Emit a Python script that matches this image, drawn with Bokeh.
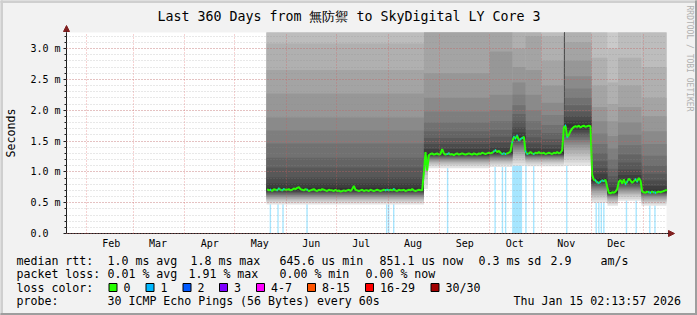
import math
import pandas as pd
from bokeh.plotting import figure
from bokeh.models import (Range1d, FixedTicker, CustomJSTickFormatter, Label,
                          BoxAnnotation, Arrow, NormalHead, ColumnDataSource)
from bokeh.embed import file_html
from bokeh.resources import INLINE

# ------------------------------------------------------------------ data
graph_end = "2026-01-15 02:13:57"
span_days = 360
y_max_ms = 3.26

title_text = "Last 360 Days from 無防禦 to SkyDigital LY Core 3"

# daily median rtt (ms), first day 2025-05-20
median_first_day = "2025-05-20"
median_may = [0.72, 0.70, 0.71, 0.69, 0.72, 0.71, 0.70, 0.73, 0.71, 0.70, 0.72, 0.71]
median_jun = [0.71, 0.72, 0.70, 0.71, 0.73, 0.72, 0.74, 0.75, 0.72, 0.71,
              0.70, 0.72, 0.71, 0.69, 0.70, 0.71, 0.72, 0.70, 0.69, 0.71,
              0.70, 0.72, 0.71, 0.70, 0.69, 0.71, 0.70, 0.70, 0.69, 0.71]
median_jul = [0.69, 0.70, 0.68, 0.69, 0.70, 0.69, 0.70, 0.71, 0.69, 0.72,
              0.77, 0.71, 0.70, 0.69, 0.70, 0.71, 0.69, 0.70, 0.70, 0.69,
              0.71, 0.70, 0.69, 0.70, 0.71, 0.70, 0.69, 0.70, 0.71, 0.70, 0.71]
median_aug = [0.70, 0.71, 0.70, 0.72, 0.70, 0.69, 0.71, 0.70, 0.70, 0.71,
              0.69, 0.70, 0.71, 0.70, 0.72, 0.70, 0.69, 0.70, 0.71, 0.70, 0.70,
              0.98, 1.32, 1.02, 1.27, 1.29, 1.30, 1.28, 1.29, 1.30, 1.28]
median_sep = [1.29, 1.37, 1.30, 1.28, 1.29, 1.30, 1.28, 1.29, 1.27, 1.29,
              1.30, 1.28, 1.29, 1.30, 1.29, 1.28, 1.29, 1.30, 1.29, 1.28,
              1.30, 1.29, 1.28, 1.30, 1.29, 1.31, 1.30, 1.29, 1.30, 1.31]
median_oct = [1.30, 1.31, 1.33, 1.35, 1.32, 1.34, 1.31, 1.29, 1.30, 1.29, 1.30, 1.31, 1.33,
              1.48, 1.57, 1.54, 1.59, 1.51, 1.53, 1.55, 1.57,
              1.33, 1.29, 1.30, 1.32, 1.30, 1.29, 1.31, 1.30, 1.32, 1.30]
median_nov = [1.30, 1.31, 1.29, 1.30, 1.31, 1.30, 1.29, 1.31, 1.30, 1.32, 1.30, 1.31, 1.35,
              1.72, 1.75, 1.56, 1.60, 1.66, 1.70,
              1.73, 1.74, 1.73, 1.75, 1.72, 1.74, 1.75, 1.73, 1.74, 1.75, 1.74]
median_dec = [0.95, 0.87, 0.86, 0.83, 0.82, 0.84, 0.86, 0.85, 0.87, 0.76,
              0.66, 0.65, 0.67, 0.66, 0.68, 0.72,
              0.84, 0.87, 0.81, 0.88, 0.80, 0.84, 0.89, 0.86, 0.82, 0.85, 0.88, 0.84, 0.90, 0.86,
              0.68]
median_jan = [0.67, 0.66, 0.68, 0.67, 0.66, 0.68, 0.67, 0.66, 0.67, 0.68, 0.67, 0.68, 0.69, 0.70, 0.70]

# smoke: 30 sorted ping rtts (ms) per period
smoke_start = ["2025-05-20 02:00", "2025-08-22 14:00", "2025-08-25 00:00", "2025-10-01 00:00",
               "2025-10-14 16:00", "2025-10-22 12:00", "2025-11-01 00:00", "2025-11-14 14:00",
               "2025-11-15 00:00", "2025-12-01 02:00", "2025-12-10 16:00", "2025-12-17 00:00",
               "2025-12-31 02:00"]
smoke_end = smoke_start[1:] + [graph_end]
pings_may_aug = [0.47, 0.50, 0.52, 0.54, 0.56, 0.57, 0.59, 0.60, 0.62, 0.63, 0.645, 0.66, 0.67, 0.685, 0.70,
                 0.74, 0.81, 0.91, 1.07, 1.23, 1.46, 1.67, 1.88, 2.27, 2.65, 3.08, 3.45, 3.90, 4.50, 5.50]
pings_aug_jump = [0.72, 0.80, 0.88, 0.95, 1.00, 1.05, 1.09, 1.12, 1.15, 1.18, 1.20, 1.22, 1.24, 1.26, 1.28,
                  1.31, 1.37, 1.45, 1.55, 1.66, 1.80, 1.98, 2.20, 2.60, 3.35, 3.90, 4.40, 5.00, 5.60, 6.50]
pings_aug_sep = [1.06, 1.09, 1.11, 1.13, 1.15, 1.165, 1.18, 1.195, 1.21, 1.22, 1.235, 1.25, 1.26, 1.27, 1.285,
                 1.31, 1.37, 1.45, 1.55, 1.66, 1.80, 1.98, 2.20, 2.60, 3.35, 3.90, 4.40, 5.00, 5.60, 6.50]
pings_oct_a = [1.08, 1.11, 1.13, 1.15, 1.17, 1.185, 1.20, 1.215, 1.23, 1.24, 1.255, 1.27, 1.28, 1.29, 1.30,
               1.33, 1.39, 1.47, 1.57, 1.68, 1.82, 2.00, 2.25, 2.95, 3.60, 4.10, 4.60, 5.20, 5.80, 6.50]
pings_oct_b = [1.10, 1.14, 1.18, 1.22, 1.26, 1.29, 1.32, 1.35, 1.38, 1.41, 1.44, 1.47, 1.50, 1.52, 1.545,
               1.58, 1.64, 1.72, 1.82, 1.94, 2.08, 2.25, 2.45, 2.70, 3.00, 3.40, 3.90, 4.40, 5.00, 6.00]
pings_oct_c = [1.09, 1.12, 1.14, 1.16, 1.18, 1.195, 1.21, 1.22, 1.235, 1.245, 1.255, 1.265, 1.275, 1.285, 1.295,
               1.32, 1.38, 1.46, 1.56, 1.68, 1.82, 2.00, 2.25, 2.65, 3.20, 3.70, 4.20, 4.80, 5.50, 6.50]
pings_nov_a = [1.09, 1.12, 1.14, 1.16, 1.18, 1.195, 1.21, 1.22, 1.235, 1.245, 1.255, 1.265, 1.275, 1.285, 1.295,
               1.32, 1.37, 1.44, 1.53, 1.63, 1.76, 1.92, 2.12, 2.40, 2.80, 3.20, 3.70, 4.20, 4.80, 5.80]
pings_nov_spike = [1.10, 1.15, 1.20, 1.25, 1.30, 1.35, 1.40, 1.44, 1.48, 1.52, 1.56, 1.60, 1.64, 1.68, 1.72,
                   1.78, 1.90, 3.40, 3.60, 3.80, 4.00, 4.20, 4.40, 4.60, 4.80, 5.00, 5.20, 5.40, 5.60, 6.00]
pings_nov_b = [1.10, 1.15, 1.20, 1.25, 1.30, 1.35, 1.40, 1.44, 1.48, 1.52, 1.56, 1.60, 1.64, 1.68, 1.72,
               1.77, 1.83, 1.90, 1.98, 2.08, 2.20, 2.35, 2.55, 2.80, 3.10, 3.50, 4.00, 4.60, 5.20, 6.00]
pings_dec_a = [0.50, 0.54, 0.57, 0.60, 0.63, 0.66, 0.69, 0.71, 0.73, 0.75, 0.77, 0.79, 0.81, 0.83, 0.85,
               0.90, 0.97, 1.06, 1.17, 1.30, 1.45, 1.62, 1.82, 2.05, 2.40, 2.85, 3.35, 3.90, 4.50, 5.50]
pings_dec_b = [0.45, 0.48, 0.50, 0.52, 0.54, 0.56, 0.575, 0.59, 0.60, 0.61, 0.62, 0.63, 0.64, 0.65, 0.66,
               0.69, 0.75, 0.83, 0.93, 1.05, 1.20, 1.38, 1.58, 1.82, 2.10, 2.45, 3.00, 3.50, 4.00, 5.00]
pings_dec_c = [0.53, 0.56, 0.59, 0.62, 0.64, 0.66, 0.68, 0.70, 0.72, 0.74, 0.76, 0.78, 0.80, 0.82, 0.84,
               0.88, 0.95, 1.04, 1.15, 1.28, 1.43, 1.60, 1.80, 2.05, 2.40, 2.85, 3.35, 3.90, 4.50, 5.50]
pings_jan = [0.45, 0.48, 0.50, 0.52, 0.54, 0.56, 0.58, 0.595, 0.61, 0.62, 0.635, 0.645, 0.655, 0.665, 0.675,
             0.71, 0.77, 0.86, 0.97, 1.10, 1.26, 1.45, 1.66, 1.90, 2.20, 2.70, 3.30, 3.80, 4.40, 5.20]
smoke_pings = [pings_may_aug, pings_aug_jump, pings_aug_sep, pings_oct_a, pings_oct_b, pings_oct_c,
               pings_nov_a, pings_nov_spike, pings_nov_b, pings_dec_a, pings_dec_b, pings_dec_c, pings_jan]

# packet loss events (1 of 30 lost)
loss_start = ["2025-05-22 00:00", "2025-05-26 14:00", "2025-05-29 14:00", "2025-06-13 00:00",
              "2025-07-30 20:00", "2025-08-01 00:00", "2025-08-04 00:00", "2025-09-05 08:00",
              "2025-10-03 20:00", "2025-10-08 06:00", "2025-10-10 04:00", "2025-10-14 11:00",
              "2025-10-22 08:00", "2025-10-27 00:00", "2025-11-15 20:00", "2025-12-03 12:00",
              "2025-12-05 02:00", "2025-12-06 14:00", "2025-12-08 02:00", "2025-12-21 16:00",
              "2025-12-27 12:00", "2026-01-04 16:00", "2026-01-07 18:00"]
loss_end = ["2025-05-22 20:00", "2025-05-27 10:00", "2025-05-30 10:00", "2025-06-13 20:00",
            "2025-07-31 16:00", "2025-08-01 20:00", "2025-08-04 20:00", "2025-09-06 04:00",
            "2025-10-04 16:00", "2025-10-09 02:00", "2025-10-11 00:00", "2025-10-20 11:00",
            "2025-10-23 04:00", "2025-10-27 20:00", "2025-11-16 16:00", "2025-12-04 08:00",
            "2025-12-05 22:00", "2025-12-07 10:00", "2025-12-08 22:00", "2025-12-22 12:00",
            "2025-12-28 08:00", "2026-01-05 12:00", "2026-01-08 14:00"]

month_starts = ["2025-02-01", "2025-03-01", "2025-04-01", "2025-05-01", "2025-06-01", "2025-07-01",
                "2025-08-01", "2025-09-01", "2025-10-01", "2025-11-01", "2025-12-01", "2026-01-01"]
month_label_days = ["2025-02-16", "2025-03-16", "2025-04-16", "2025-05-16", "2025-06-16", "2025-07-16",
                    "2025-08-16", "2025-09-16", "2025-10-16", "2025-11-16", "2025-12-16"]
y_major = [0.0, 0.5, 1.0, 1.5, 2.0, 2.5, 3.0]

loss_legend = ["0", "1", "2", "3", "4-7", "8-15", "16-29", "30/30"]
loss_colors = ["#26ff00", "#00b8ff", "#0059ff", "#7e00ff", "#ff00ff", "#ff5500", "#ff0000", "#a10000"]
smoke_gray = ["#e3e3e3", "#d6d6d6", "#cacaca", "#bdbdbd", "#b0b0b0", "#a4a4a4", "#979797", "#8a8a8a",
              "#7e7e7e", "#717171", "#646464", "#585858", "#4b4b4b", "#3e3e3e", "#323232"]

legend_row1 = [("median rtt:", 16), ("1.0 ms avg", 107), ("1.8 ms max", 190), ("645.6 us min", 279),
               ("851.1 us now", 379), ("0.3 ms sd", 478), ("2.9", 550), ("am/s", 600)]
legend_row2 = [("packet loss:", 16), ("0.01 % avg", 107), ("1.91 % max", 188), ("0.00 % min", 279),
               ("0.00 % now", 365)]
legend_row4 = [("probe:", 16), ("30 ICMP Echo Pings (56 Bytes) every 60s", 107),
               ("Thu Jan 15 02:13:57 2026", 513)]

# ------------------------------------------------------------------ layout constants
W, H = 697, 315
FL, FT, FB, FR = 66, 32, 233, 666      # plot area edges in canvas px
MONO = "DejaVu Sans Mono"

def ms(s):
    return pd.Timestamp(s).value / 1e6

DAY = 86400000.0
t_end = ms(graph_end)
t_start = t_end - span_days * DAY
kx = (t_end - t_start) / (FR - FL)       # ms of time per pixel
ky = y_max_ms / (FB - FT)                # rtt-ms per pixel

median_vals = (median_may + median_jun + median_jul + median_aug + median_sep +
               median_oct + median_nov + median_dec + median_jan)
day0 = ms(median_first_day)
median_day = [day0 + i * DAY for i in range(len(median_vals))]
median_x = [d + DAY / 2 for d in median_day]
ls_ms = [ms(s) for s in loss_start]
le_ms = [ms(s) for s in loss_end]

# the frame covers the whole canvas; axes are pinned inside it
p = figure(width=W, height=H, x_axis_type="datetime",
           x_range=Range1d(t_start - FL * kx, t_start + (W - FL) * kx),
           y_range=Range1d(-(H - FB) * ky, y_max_ms + FT * ky),
           output_backend="svg", toolbar_location=None,
           min_border=0, min_border_left=0, min_border_right=0, min_border_top=0, min_border_bottom=0,
           background_fill_color="#f2f2f2", border_fill_color="#f2f2f2")
p.outline_line_color = None

# white canvas of the graph
p.add_layout(BoxAnnotation(left=t_start, right=t_end, bottom=0, top=y_max_ms,
                           fill_color="white", fill_alpha=1, line_color=None, level="underlay"))

# loss background bars
p.quad(left=ls_ms, right=le_ms, bottom=0, top=y_max_ms, fill_color=loss_colors[1], fill_alpha=0.35,
       line_color=None)

# smoke
rows = dict(left=[], right=[], bottom=[], top=[], color=[])
for b in range(15):
    for s, e, pings in zip(smoke_start, smoke_end, smoke_pings):
        rows["left"].append(ms(s))
        rows["right"].append(ms(e))
        rows["bottom"].append(min(pings[b], y_max_ms))
        rows["top"].append(min(pings[29 - b], y_max_ms))
        rows["color"].append(smoke_gray[b])
p.quad(source=ColumnDataSource(rows), left="left", right="right", bottom="bottom", top="top",
       fill_color="color", line_color=None)

# median line coloured by loss
p.line(median_x, median_vals, line_color=loss_colors[0], line_width=2)
bx0, bx1, by = [], [], []
for d, v in zip(median_day, median_vals):
    if any(s < d + DAY and e > d for s, e in zip(ls_ms, le_ms)):
        bx0.append(d + DAY * 0.2)
        bx1.append(d + DAY * 0.8)
        by.append(v)
p.segment(x0=bx0, y0=by, x1=bx1, y1=by, line_color=loss_colors[1], line_width=2)

# axes pinned at the graph origin
p.xaxis.fixed_location = 0
p.xaxis.bounds = (t_start, t_end)
p.yaxis.fixed_location = t_start
p.yaxis.bounds = (0, y_max_ms)
p.xaxis.ticker = FixedTicker(ticks=[ms(d) for d in month_label_days])
p.xaxis.formatter = CustomJSTickFormatter(code="""
const m=['Jan','Feb','Mar','Apr','May','Jun','Jul','Aug','Sep','Oct','Nov','Dec'];
return m[new Date(tick).getUTCMonth()];""")
p.yaxis.ticker = FixedTicker(ticks=y_major, minor_ticks=[i / 10 for i in range(0, 33)])
p.yaxis.formatter = CustomJSTickFormatter(
    code="return tick == 0 ? '0.0\\u00a0\\u00a0' : tick.toFixed(1) + ' m';")
for ax in (p.xaxis[0], p.yaxis[0]):
    ax.axis_line_color = "#1f1f1f"
    ax.major_label_text_font = MONO
    ax.major_label_text_font_size = "10px"
    ax.major_label_text_color = "black"
    ax.major_tick_in = 0
    ax.minor_tick_in = 0
    ax.major_tick_line_color = "#1f1f1f"
    ax.minor_tick_line_color = "#1f1f1f"
p.xaxis.major_tick_out = 0
p.xaxis.minor_tick_out = 0
p.xaxis.major_label_standoff = 4
p.yaxis.major_tick_out = 3
p.yaxis.minor_tick_out = 2
p.yaxis.major_label_standoff = 3

p.xgrid.ticker = FixedTicker(ticks=[ms(d) for d in month_starts])
p.xgrid.bounds = (t_start, t_end)
p.xgrid.cross_bounds = (0, y_max_ms)
p.ygrid.bounds = (0, y_max_ms)
p.ygrid.cross_bounds = (t_start, t_end)
p.xgrid.grid_line_color = "#de4f4f"
p.xgrid.grid_line_alpha = 0.5
p.xgrid.grid_line_dash = "1 2"
p.ygrid.grid_line_color = "#de4f4f"
p.ygrid.grid_line_alpha = 0.5
p.ygrid.grid_line_dash = "1 2"
p.ygrid.minor_grid_line_color = "#8f8f8f"
p.ygrid.minor_grid_line_alpha = 0.4
p.ygrid.minor_grid_line_dash = "1 2"
p.xgrid.level = "guide"
p.ygrid.level = "guide"

# arrows at the axis ends
head = dict(size=6, fill_color="#801f1f", line_color="#801f1f")
p.add_layout(Arrow(end=NormalHead(**head), x_start=t_end, y_start=0, x_end=t_end + 8 * kx, y_end=0,
                   line_color="#1f1f1f", line_width=1))
p.add_layout(Arrow(end=NormalHead(**head), x_start=t_start, y_start=y_max_ms, x_end=t_start,
                   y_end=y_max_ms + 7 * ky, line_color="#1f1f1f", line_width=1))

# ------------------------------------------------------------------ texts
def text(t, x, y, size="11.6px", align="left", angle=0.0, color="black", font=MONO):
    p.add_layout(Label(x=x, y=H - y, x_units="screen", y_units="screen", text=t,
                       text_font=font, text_font_size=size, text_color=color,
                       text_align=align, text_baseline="middle", angle=angle))

def box(x0, x1, y0, y1, color, line=None):
    p.add_layout(BoxAnnotation(left=x0, right=x1, top=H - y0, bottom=H - y1,
                               left_units="screen", right_units="screen",
                               top_units="screen", bottom_units="screen",
                               fill_color=color, fill_alpha=1.0,
                               line_color=line if line else color, line_alpha=1.0, line_width=1))

text(title_text, W / 2, 15.5, size="13.3px", align="center")
text("Seconds", 10.5, (FT + FB) / 2, align="center", angle=math.pi / 2)
text("RRDTOOL / TOBI OETIKER", 689, 5, size="8px", angle=-math.pi / 2, color="#b0b0b0")
for t, x in legend_row1:
    text(t, x, 260)
for t, x in legend_row2:
    text(t, x, 273.5)
for t, x in legend_row4:
    text(t, x, 300.5)
text("loss color:", 16, 287)
box_x = [108.5, 145.5, 182.5, 219, 256, 307, 365, 430.5]
for lab, col, bx in zip(loss_legend, loss_colors, box_x):
    box(bx, bx + 8, 283, 291, col, line="black")
    text(lab, bx + 14.5, 287)

box(0, W, 0, 2, "#cfcfcf")
box(0, 2, 0, H, "#cfcfcf")
box(0, W, H - 2, H, "#9e9e9e")
box(W - 2, W, 0, H, "#9e9e9e")

open("out.html", "w").write(file_html(p, INLINE))
